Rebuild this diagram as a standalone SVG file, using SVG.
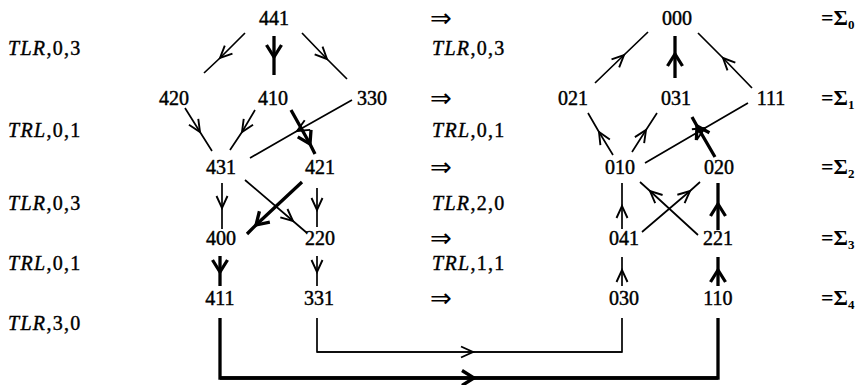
<svg xmlns="http://www.w3.org/2000/svg" width="865" height="385" viewBox="0 0 865 385">
<style>
.n{font-family:"Liberation Serif","Times New Roman",serif;font-size:20px;fill:#000;stroke:#000;stroke-width:0.45;text-anchor:middle}
.lb{font-family:"Liberation Serif","Times New Roman",serif;font-size:20px;fill:#000;stroke:#000;stroke-width:0.4;letter-spacing:1.3px}
.it{font-style:italic}
.im{font-family:"DejaVu Sans",sans-serif;font-size:26px;fill:#000}
.sg{font-family:"Liberation Serif","Times New Roman",serif;font-size:22px;font-weight:bold;fill:#000}
.sub{font-size:13px}
.t{fill:none;stroke:#000;stroke-width:1.7;marker-mid:url(#a1)}
.k{fill:none;stroke:#000;stroke-width:3.3;marker-mid:url(#a2)}
</style>
<defs>
<marker id="a1" markerUnits="userSpaceOnUse" markerWidth="30" markerHeight="30" refX="0" refY="0" viewBox="-15 -15 30 30" orient="auto" overflow="visible">
<path d="M-12,-5.5 L0,0 L-12,5.5" fill="none" stroke="#000" stroke-width="1.9" stroke-linejoin="miter"/>
</marker>
<marker id="a2" markerUnits="userSpaceOnUse" markerWidth="30" markerHeight="30" refX="0" refY="0" viewBox="-15 -15 30 30" orient="auto" overflow="visible">
<path d="M-12,-7.5 L0,0 L-12,7.5" fill="none" stroke="#000" stroke-width="3.3" stroke-linejoin="miter"/>
</marker>
</defs>

<g id="row-labels-left">
<text class="lb" x="8" y="55"><tspan class="it">TLR</tspan>,0,3</text>
<text class="lb" x="8" y="137"><tspan class="it">TRL</tspan>,0,1</text>
<text class="lb" x="8" y="210"><tspan class="it">TLR</tspan>,0,3</text>
<text class="lb" x="8" y="270"><tspan class="it">TRL</tspan>,0,1</text>
<text class="lb" x="8" y="330"><tspan class="it">TLR</tspan>,3,0</text>
</g>

<g id="row-labels-middle">
<text class="im" x="430" y="27">⇒</text>
<text class="lb" x="432" y="55"><tspan class="it">TLR</tspan>,0,3</text>
<text class="im" x="430" y="107">⇒</text>
<text class="lb" x="432" y="137"><tspan class="it">TRL</tspan>,0,1</text>
<text class="im" x="430" y="176">⇒</text>
<text class="lb" x="432" y="210"><tspan class="it">TLR</tspan>,2,0</text>
<text class="im" x="430" y="247">⇒</text>
<text class="lb" x="432" y="270"><tspan class="it">TRL</tspan>,1,1</text>
<text class="im" x="430" y="307">⇒</text>
</g>

<g id="sigma-labels">
<text class="sg" x="821" y="25">=Σ<tspan class="sub" dy="4">0</tspan></text>
<text class="sg" x="821" y="105">=Σ<tspan class="sub" dy="4">1</tspan></text>
<text class="sg" x="821" y="174">=Σ<tspan class="sub" dy="4">2</tspan></text>
<text class="sg" x="821" y="245">=Σ<tspan class="sub" dy="4">3</tspan></text>
<text class="sg" x="821" y="305">=Σ<tspan class="sub" dy="4">4</tspan></text>
</g>

<g id="n441"><text class="n" x="274" y="25">441</text></g>
<g id="n420"><text class="n" x="174" y="105">420</text></g>
<g id="n410"><text class="n" x="273" y="105">410</text></g>
<g id="n330"><text class="n" x="372" y="105">330</text></g>
<g id="n431"><text class="n" x="221" y="174">431</text></g>
<g id="n421"><text class="n" x="320" y="174">421</text></g>
<g id="n400"><text class="n" x="221" y="245">400</text></g>
<g id="n220"><text class="n" x="320" y="245">220</text></g>
<g id="n411"><text class="n" x="220" y="305">411</text></g>
<g id="n331"><text class="n" x="319" y="305">331</text></g>

<g id="n000"><text class="n" x="677" y="25">000</text></g>
<g id="n021"><text class="n" x="573" y="105">021</text></g>
<g id="n031"><text class="n" x="676" y="105">031</text></g>
<g id="n111"><text class="n" x="771" y="105">111</text></g>
<g id="n010"><text class="n" x="620" y="174">010</text></g>
<g id="n020"><text class="n" x="719" y="174">020</text></g>
<g id="n041"><text class="n" x="624" y="245">041</text></g>
<g id="n221"><text class="n" x="718" y="245">221</text></g>
<g id="n030"><text class="n" x="624" y="305">030</text></g>
<g id="n110"><text class="n" x="718" y="305">110</text></g>

<g id="connectors">
<path class="t" d="M245,33 L220,58 L204,73"/>
<path class="k" d="M274,36 L274,57 L274,75"/>
<path class="t" d="M302,33 L327,59 L347,79"/>
<path class="t" d="M185,108 L200,132 L212,151"/>
<path class="t" d="M255,110 L242,132 L230,150"/>
<path class="k" d="M291,110 L310,144 L315,154"/>
<path class="t" d="M352,100 L297,131 L250,158"/>
<path class="t" d="M222,183 L222,208 L222,229"/>
<path class="t" d="M245,180 L293,221 L307,233"/>
<path class="k" d="M302,182 L256,225 L247,234"/>
<path class="t" d="M317,188 L317,210 L317,227"/>
<path class="k" d="M220,256 L220,272 L220,286"/>
<path class="t" d="M317,256 L317,272 L317,286"/>
<path class="t" d="M317,318 L317,352 L622,352 L622,318" style="marker-mid:none"/>
<path class="t" d="M317,352 L473,352 L622,352"/>
<path class="k" d="M220,318 L220,378 L718,378 L718,318" style="marker-mid:none"/>
<path class="k" d="M220,378 L474,378 L718,378"/>

<path class="t" d="M595,83 L624,55 L648,32"/>
<path class="k" d="M675,78 L675,54 L675,36"/>
<path class="t" d="M752,88 L723,58 L698,33"/>
<path class="t" d="M613,155 L599,132 L588,113"/>
<path class="t" d="M632,152 L646,130 L657,113"/>
<path class="t" d="M645,163 L705,128 L748,103"/>
<path class="k" d="M715,157 L697,126 L692,117"/>
<path class="t" d="M622,229 L622,206 L622,183"/>
<path class="t" d="M642,232 L690,191 L700,182"/>
<path class="t" d="M698,235 L650,191 L640,182"/>
<path class="k" d="M718,230 L718,204 L718,183"/>
<path class="t" d="M622,286 L622,270 L622,257"/>
<path class="k" d="M718,286 L718,270 L718,257"/>
</g>
</svg>
